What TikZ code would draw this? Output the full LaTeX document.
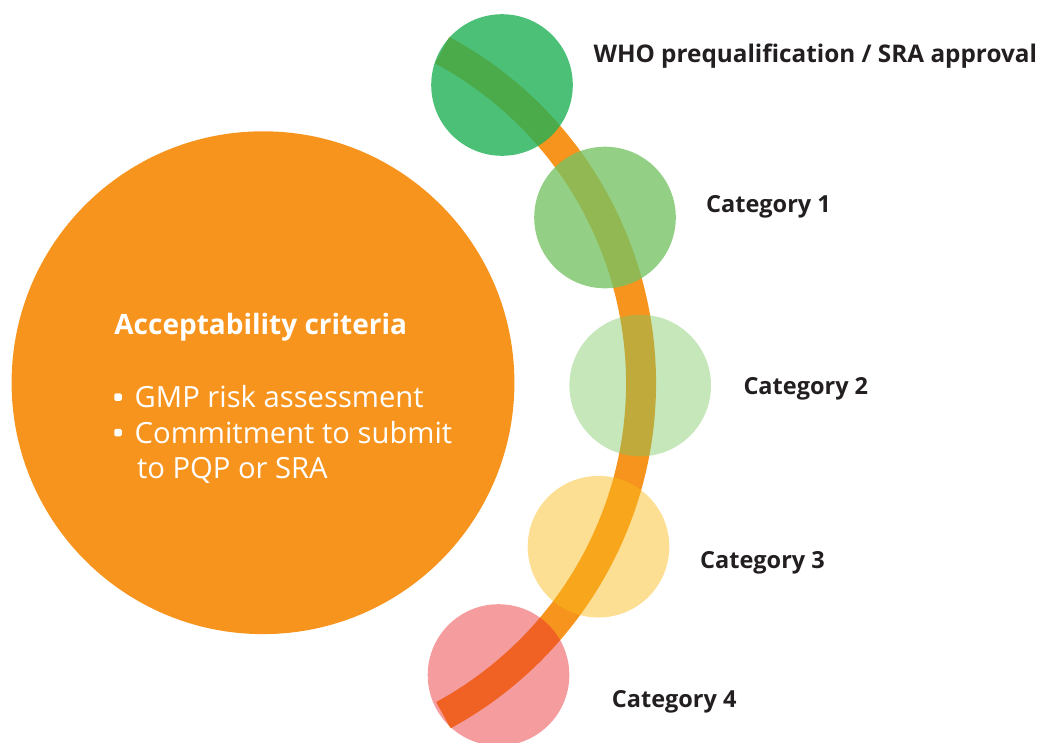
\documentclass[tikz,border=0pt]{standalone}
\usepackage{fontspec}
\setmainfont{Open Sans}
\definecolor{accorange}{RGB}{247,148,29}
\definecolor{whogreen}{RGB}{33,176,86}
\definecolor{catone}{RGB}{117,195,99}
\definecolor{cattwo}{RGB}{123,200,98}
\definecolor{catthree}{RGB}{250,188,30}
\definecolor{catfour}{RGB}{233,40,46}
\definecolor{labeltext}{RGB}{35,31,32}
\tikzset{
  dot/.style={circle, inner sep=0pt, minimum size=141.6pt, draw=none},
  catlabel/.style={anchor=base west, inner sep=0pt, text=labeltext, font=\fontsize{23.5}{28}\selectfont\bfseries},
  inner/.style={anchor=base west, inner sep=0pt, text=white, font=\fontsize{29.2}{35}\selectfont},
  bulletmark/.style={rectangle, rounded corners=1.5pt, inner sep=0pt, minimum size=7.5pt, fill=white},
}
\begin{document}
\begin{tikzpicture}[x=1pt,y=1pt]
\useasboundingbox (0,0) rectangle (1040,-742);
% big circle
\node[circle, inner sep=0pt, minimum size=502.8pt, fill=accorange] (big) at (263,-382.7) {};
\coordinate (hub) at (263,-383);
% band
\draw[line width=30pt, accorange] (hub) ++(61.7:378) arc[start angle=61.7, end angle=-61.5, radius=378];
% small circles
\node[dot, fill=whogreen, fill opacity=0.8] (who) at (502,-85) {};
\node[dot, fill=catone, fill opacity=0.78] (c1) at (605,-217.5) {};
\node[dot, fill=cattwo, fill opacity=0.44] (c2) at (640.2,-385.5) {};
\node[dot, fill=catthree, fill opacity=0.48] (c3) at (598.5,-546.7) {};
\node[dot, fill=catfour, fill opacity=0.46] (c4) at (498.5,-675) {};
% labels
\node[catlabel, font=\fontsize{24.3}{29}\selectfont\bfseries] (lwho) at (593.3,-62.3) {WHO prequalification / SRA approval};
\node[catlabel] (l1) at (706,-212.7) {Category 1};
\node[catlabel] (l2) at (743.3,-394.3) {Category 2};
\node[catlabel] (l3) at (700,-568.3) {Category 3};
\node[catlabel] (l4) at (611.7,-707.7) {Category 4};
% inner text
\node[inner, font=\fontsize{28}{34}\selectfont\bfseries] (title) at (114.2,-334.9) {Acceptability criteria};
\node[bulletmark] (b1) at (118,-397) {};
\node[inner] (t1) at (134.5,-407.8) {GMP risk assessment};
\node[bulletmark] (b2) at (118,-432.5) {};
\node[inner] (t2) at (134.5,-443.3) {Commitment to submit};
\node[inner] (t3) at (136.8,-478.8) {to PQP or SRA};
\end{tikzpicture}
\end{document}
